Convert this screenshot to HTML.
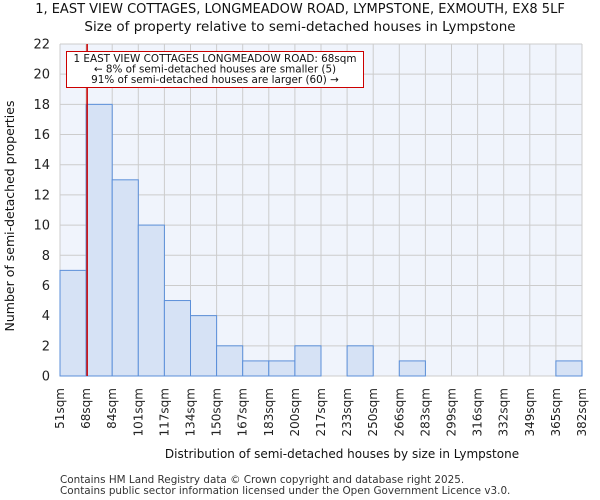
<!DOCTYPE html>
<html><head><meta charset="utf-8"><style>body{margin:0;background:#fff}svg{display:block;font-family:"DejaVu Sans","Liberation Sans",sans-serif}</style></head>
<body>
<svg id="c" width="600" height="500"></svg>
<script>
const categories=["51sqm","68sqm","84sqm","101sqm","117sqm","134sqm","150sqm","167sqm","183sqm","200sqm","217sqm","233sqm","250sqm","266sqm","283sqm","299sqm","316sqm","332sqm","349sqm","365sqm","382sqm"];
const counts=[7,18,13,10,5,4,2,1,1,2,0,2,0,1,0,0,0,0,0,1];
const yTicks=[0,2,4,6,8,10,12,14,16,18,20,22];
const markerIndex=1.04;
const NS="http://www.w3.org/2000/svg",svg=document.getElementById('c');
const L=60,R=582,T=44,B=376,yMax=22;
const nb=counts.length,bw=(R-L)/nb;
const x=i=>L+i*bw, y=v=>B-(v/yMax)*(B-T);
function el(t,a,p){const e=document.createElementNS(NS,t);for(const k in a)e.setAttribute(k,a[k]);(p||svg).appendChild(e);return e;}
function tx(s,a,p){const e=el('text',a,p);e.textContent=s;return e;}
const bg=el('rect',{x:L,y:T,width:R-L,height:B-T,fill:'#f0f4fc'});


const grid=el('g',{stroke:'#cccccc','stroke-width':1});


for(let i=0;i<=nb;i++)el('line',{x1:x(i),x2:x(i),y1:T,y2:B},grid);
yTicks.forEach(v=>el('line',{x1:L,x2:R,y1:y(v),y2:y(v)},grid));
counts.forEach((c,i)=>{if(!c)return;const r=el('rect',{x:x(i),y:y(c),width:bw,height:B-y(c),fill:'#d6e2f5',stroke:'#5b8fd9','stroke-width':1});

});
yTicks.forEach(v=>{const t=tx(v,{x:L-10,y:y(v)+4.5,'text-anchor':'end','font-size':13,fill:'#222'});

});
categories.forEach((c,i)=>{const px=x(i)+4,py=388;const t=tx(c,{x:px,y:py,'text-anchor':'end','font-size':12,fill:'#222',transform:`rotate(-90 ${px} ${py})`});

});
const ml=el('line',{x1:x(markerIndex),x2:x(markerIndex),y1:T,y2:B,stroke:'#cc0000','stroke-width':1.5});


const ag=el('g',{});


el('rect',{x:66.5,y:51.5,width:297,height:36,fill:'#fff',stroke:'#cc0000','stroke-width':1},ag);
tx('1 EAST VIEW COTTAGES LONGMEADOW ROAD: 68sqm',{x:215,y:62,'text-anchor':'middle','font-size':10.4,fill:'#111'},ag);
tx('← 8% of semi-detached houses are smaller (5)',{x:215,y:72.5,'text-anchor':'middle','font-size':10.4,fill:'#111'},ag);
tx('91% of semi-detached houses are larger (60) →',{x:215,y:83,'text-anchor':'middle','font-size':10.4,fill:'#111'},ag);
</script>
<svg width="600" height="500" style="position:absolute;left:0;top:0">
<text x="300" y="13" text-anchor="middle" font-size="13" fill="#111">1, EAST VIEW COTTAGES, LONGMEADOW ROAD, LYMPSTONE, EXMOUTH, EX8 5LF</text>
<text x="300" y="31" text-anchor="middle" font-size="13.5" fill="#111">Size of property relative to semi-detached houses in Lympstone</text>
<text x="14" y="216" text-anchor="middle" font-size="12.5" fill="#111" transform="rotate(-90 14 216)">Number of semi-detached properties</text>
<text x="342" y="458" text-anchor="middle" font-size="12" fill="#111">Distribution of semi-detached houses by size in Lympstone</text>
<text x="60" y="483" font-size="10.4" fill="#333">Contains HM Land Registry data © Crown copyright and database right 2025.</text>
<text x="60" y="494" font-size="10.4" fill="#333">Contains public sector information licensed under the Open Government Licence v3.0.</text>
</svg>
</body></html>
